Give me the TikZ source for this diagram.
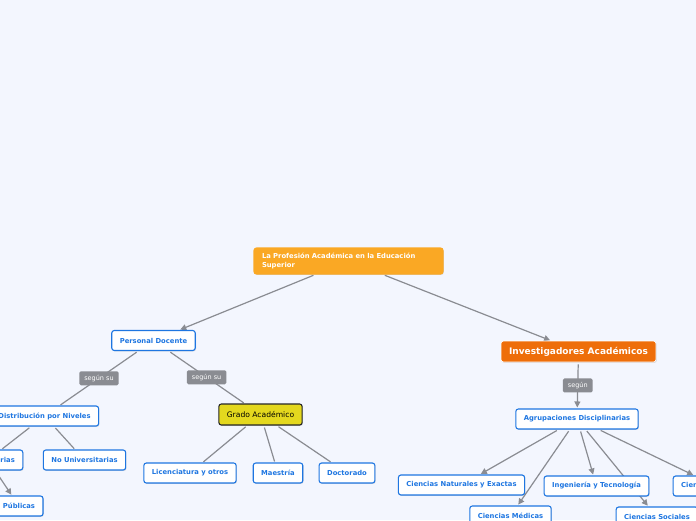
\documentclass[tikz,border=0pt]{standalone}
\usepackage{fontspec}
\setmainfont{DejaVu Sans}
\usetikzlibrary{arrows.meta,shadows,backgrounds}
\definecolor{bgblue}{RGB}{243,246,254}
\definecolor{topicorange}{RGB}{250,168,36}
\definecolor{mainorange}{RGB}{238,110,10}
\definecolor{gradoyellow}{RGB}{228,216,30}
\definecolor{subblue}{RGB}{30,118,225}
\definecolor{linkgray}{RGB}{138,140,146}
\begin{document}
\begin{tikzpicture}[x=1pt,y=-1pt,line join=round,line cap=round,>={Triangle[length=6pt,width=6pt]},
  box/.style={rounded corners=2.5pt,line width=1.1pt,minimum height=20pt,inner xsep=8pt,inner ysep=0pt,
    drop shadow={shadow xshift=.8pt,shadow yshift=-.9pt,opacity=.25}},
  sub/.style={box,draw=subblue,fill=white,text=subblue,font=\bfseries\fontsize{6.8}{8}\selectfont},
  seglabel/.style={fill=linkgray,text=white,rounded corners=1.5pt,inner xsep=5pt,inner ysep=0pt,
    minimum height=14pt,font=\fontsize{6.5}{7}\selectfont},
  link/.style={draw=linkgray,line width=1.2pt,shorten <=2pt,shorten >=1pt}]
\useasboundingbox (0,0) rectangle (696,520);
\clip (0,0) rectangle (696,520);
% nodes
\node[box,fill=topicorange,draw=topicorange,text=white,text width=173pt,align=left,minimum height=26pt,
  font=\bfseries\fontsize{6.8}{9}\selectfont] (root) at (348.5,261) {La Profesión Académica en la Educación\\Superior};
\node[sub] (pd) at (153.5,340.5) {Personal Docente};
\node[box,fill=mainorange,draw=white,line width=.6pt,text=white,minimum height=21pt,
  font=\bfseries\fontsize{9}{10}\selectfont] (inv) at (578.5,351.5) {Investigadores Académicos};
\node[sub] (agr) at (577,419) {Agrupaciones Disciplinarias};
\node[sub] (cne) at (461.5,485) {Ciencias Naturales y Exactas};
\node[sub] (cmed) at (510.5,516) {Ciencias Médicas};
\node[sub] (ing) at (596.5,486) {Ingeniería y Tecnología};
\node[sub] (csoc) at (657,517) {Ciencias Sociales};
\node[sub] (cagr) at (716,486) {Ciencias Agrícolas};
\node[sub] (dist) at (44.5,416) {Distribución por Niveles};
\node[box,fill=gradoyellow,draw=black!85,text=black,minimum height=21pt,
  font=\fontsize{7.6}{9}\selectfont] (grado) at (260.5,414.5) {Grado Académico};
\node[sub] (lic) at (190,473) {Licenciatura y otros};
\node[sub] (mae) at (278,473) {Maestría};
\node[sub] (doc) at (347,473) {Doctorado};
\node[sub] (univ) at (-12,460) {Universitarias};
\node[sub] (nouniv) at (84.5,460) {No Universitarias};
\node[sub] (pub) at (19,506) {Públicas};
% connectors
\begin{scope}[on background layer]
\fill[bgblue] (0,0) rectangle (696,520);
\draw[link,->] (root) -- (pd);
\draw[link,->] (root) -- (inv);
\draw[link,->] (inv) -- node[seglabel] (segagr) {según} (agr);
\foreach \n in {cne,cmed,ing,csoc,cagr}
  \draw[link,->] (agr) -- (\n);
\draw[link] (pd) -- node[seglabel] (segdist) {según su} (dist);
\draw[link] (pd) -- node[seglabel] (seggrado) {según su} (grado);
\foreach \n in {lic,mae,doc}
  \draw[link] (grado) -- (\n);
\draw[link] (dist) -- (univ);
\draw[link] (dist) -- (nouniv);
\draw[link,->] (univ) -- (pub);
\end{scope}
\end{tikzpicture}
\end{document}
